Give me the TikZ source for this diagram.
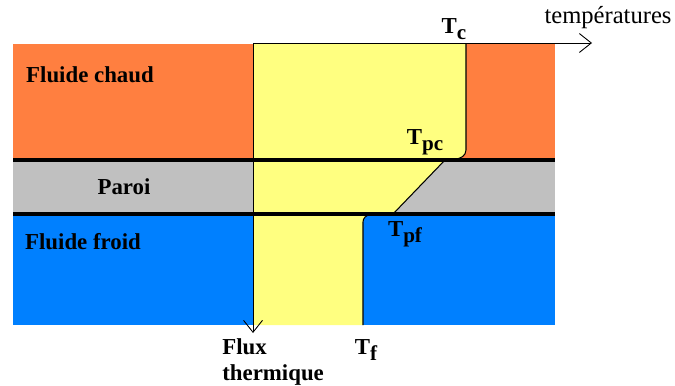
\documentclass[tikz,border=0pt]{standalone}
\usepackage{fontspec}
\setmainfont{Liberation Serif}
\usetikzlibrary{arrows.meta}
\definecolor{chaud}{HTML}{FF7F40}
\definecolor{paroi}{HTML}{C0C0C0}
\definecolor{froid}{HTML}{0080FF}
\definecolor{flux}{HTML}{FFFF80}
\newcommand{\indice}[1]{\raisebox{-0.6ex}{\fontsize{12}{14}\selectfont #1}}

\begin{document}
\begin{tikzpicture}[x=0.02cm,y=-0.02cm,
  lab/.style={font=\fontsize{13}{15}\selectfont\bfseries, inner sep=0pt},
  fleche/.style={-{Straight Barb[length=2.4mm,width=3.8mm]}, line width=0.5pt}]
\useasboundingbox (0,0) rectangle (675,385);
% --- the three layers ---
\fill[chaud] (13,44) rectangle (555,160);
\fill[paroi] (13,160) rectangle (555,214);
\fill[froid] (13,214) rectangle (555,325);

% --- temperature profile ---
\fill[flux] (253,44) -- (466,44) -- (466,150) to[out=-90,in=0] (455,159)
  -- (445,160) -- (393,214) -- (370,215) to[out=180,in=90] (363,222)
  -- (363,325) -- (253,325) -- cycle;
\draw[line width=0.6pt] (466,44) -- (466,150) to[out=-90,in=0] (455,159)
  -- (445,160) -- (393,214) -- (370,215) to[out=180,in=90] (363,222)
  -- (363,325);

% --- walls ---
\draw[line width=1.8pt] (13,160) -- (555,160);
\draw[line width=1.8pt] (13,214) -- (555,214);

% --- axes ---
\coordinate (o) at (253,43);
\coordinate (t) at (592,43);
\coordinate (q) at (253,333);
\draw[fleche] (o) -- (t);
\draw[fleche] (o) -- (q);

% --- labels ---
\node[lab] (chaud) at (90,75) {Fluide chaud};
\node[lab] (paroi) at (124,187) {Paroi};
\node[lab] (froid) at (83,242) {Fluide froid};
\node[font=\fontsize{14}{16}\selectfont, inner sep=0pt] (temp) at (608,18) {températures};
\node[lab] (tc) at (454,29) {T\indice{c}};
\node[lab] (tpc) at (425,142) {T\indice{pc}};
\node[lab] (tpf) at (405,234) {T\indice{pf}};
\node[lab] (tf) at (366,350) {T\indice{f}};
\node[lab, align=left, anchor=north west] (fluxlab) at (222,338) {Flux\\thermique};
\end{tikzpicture}
\end{document}
